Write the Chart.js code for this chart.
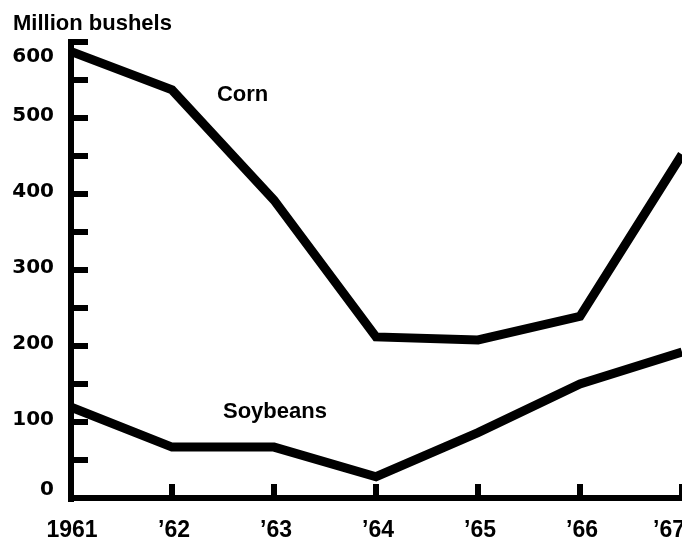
<!DOCTYPE html>
<html>
<head>
<meta charset="utf-8">
<script src="https://cdn.jsdelivr.net/npm/chart.js@4/dist/chart.umd.min.js"></script>
<style>
html,body{margin:0;padding:0;background:#fff;}
#wrap{width:682px;height:542px;overflow:hidden;}
canvas{display:block;}
</style>
</head>
<body>
<div id="wrap"><canvas id="c" width="682" height="542"></canvas></div>
<script>
const years = ['1961', '\u201962', '\u201963', '\u201964', '\u201965', '\u201966', '\u201967'];
const corn = [588, 537, 392, 212, 208, 239, 452];
const soybeans = [120, 67, 67, 28, 86, 150, 192];
const yTickValues = [0, 50, 100, 150, 200, 250, 300, 350, 400, 450, 500, 550, 600];
const yTickLabels = ['0', '100', '200', '300', '400', '500', '600'];
const yLabelValues = [0, 100, 200, 300, 400, 500, 600];
const unitLabel = 'Million bushels';
const seriesLabels = [
  {text: 'Corn', xi: 1.44, y: 530},
  {text: 'Soybeans', xi: 1.5, y: 113}
];

const FONT = 'bold 22px "Liberation Sans", Arial, sans-serif';
const XFONT = 'bold 23px "Liberation Sans", Arial, sans-serif';
const YFONT = 'bold 20px "DejaVu Sans", sans-serif';
const INK = '#000';

const axesPlugin = {
  id: 'axesPlugin',
  afterDatasetsDraw(chart) {
    const ctx = chart.ctx;
    const xs = chart.scales.x, ys = chart.scales.y;
    const left = xs.getPixelForValue(0);
    const base = ys.getPixelForValue(0);
    const top = ys.getPixelForValue(600);
    ctx.save();
    ctx.fillStyle = INK;
    ctx.strokeStyle = INK;
    ctx.lineCap = 'butt';
    ctx.lineWidth = 6;
    ctx.beginPath();
    ctx.moveTo(left + 1, top - 3);
    ctx.lineTo(left + 1, base + 4);
    ctx.stroke();
    ctx.beginPath();
    ctx.moveTo(left - 2, base);
    ctx.lineTo(chart.width + 5, base);
    ctx.stroke();
    yTickValues.forEach(v => {
      if (v === 0) return;
      const py = ys.getPixelForValue(v);
      ctx.beginPath();
      ctx.moveTo(left, py);
      ctx.lineTo(left + 18, py);
      ctx.stroke();
    });
    for (let i = 1; i < years.length; i++) {
      const px = xs.getPixelForValue(i);
      ctx.beginPath();
      ctx.moveTo(px, base);
      ctx.lineTo(px, base - 14);
      ctx.stroke();
    }
    ctx.font = YFONT;
    ctx.textAlign = 'right';
    ctx.textBaseline = 'middle';
    yLabelValues.forEach((v, k) => {
      let py = ys.getPixelForValue(v) - 2;
      py = Math.max(py, 57);
      py = Math.min(py, 490);
      ctx.fillText(yTickLabels[k], 54, py);
    });
    ctx.font = XFONT;
    ctx.textAlign = 'center';
    ctx.textBaseline = 'alphabetic';
    years.forEach((t, i) => {
      let px = xs.getPixelForValue(i) + 2;
      px = Math.min(px, chart.width - 13);
      ctx.fillText(t, px, 537);
    });
    ctx.font = FONT;
    ctx.textAlign = 'left';
    ctx.fillText(unitLabel, 13, 30);
    ctx.textBaseline = 'middle';
    seriesLabels.forEach(s => {
      ctx.fillText(s.text, xs.getPixelForValue(s.xi), ys.getPixelForValue(s.y));
    });
    ctx.restore();
  }
};

const bgPlugin = {
  id: 'bg',
  beforeDraw(chart) {
    const ctx = chart.ctx;
    ctx.save();
    ctx.fillStyle = '#fff';
    ctx.fillRect(0, 0, chart.width, chart.height);
    ctx.restore();
  }
};

new Chart(document.getElementById('c'), {
  type: 'line',
  data: {
    labels: years,
    datasets: [
      {label: 'Corn', data: corn, borderColor: INK, borderWidth: 9, pointRadius: 0, tension: 0, fill: false, borderJoinStyle: 'miter', clip: 10},
      {label: 'Soybeans', data: soybeans, borderColor: INK, borderWidth: 9, pointRadius: 0, tension: 0, fill: false, borderJoinStyle: 'miter', clip: 10}
    ]
  },
  options: {
    responsive: false,
    animation: false,
    devicePixelRatio: 1,
    layout: {padding: {left: 70, right: 0, top: 42, bottom: 44}},
    plugins: {legend: {display: false}, tooltip: {enabled: false}, title: {display: false}},
    scales: {
      x: {type: 'category', display: false, offset: false},
      y: {type: 'linear', display: false, min: 0, max: 600}
    }
  },
  plugins: [bgPlugin, axesPlugin]
});
</script>
</body>
</html>
